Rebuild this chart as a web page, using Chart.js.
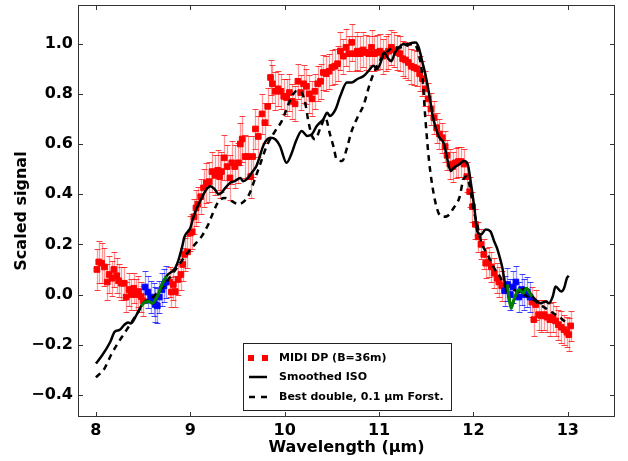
<!DOCTYPE html>
<html>
<head>
<meta charset="utf-8">
<script src="https://cdn.jsdelivr.net/npm/chart.js@4/dist/chart.umd.min.js"></script>
<style>
  html, body { margin: 0; background: #fff; }
  #wrap { width: 628px; height: 461px; }
</style>
</head>
<body>
<div id="wrap"><canvas id="c" width="628" height="461"></canvas></div>
<script>
// MIDI DP spectrum vs smoothed ISO and best-fit double model.
const xTicks = [8, 9, 10, 11, 12, 13];
const yTicks = [-0.4, -0.2, 0.0, 0.2, 0.4, 0.6, 0.8, 1.0];

// MIDI DP (B=36m), red points with error bars
const midiX = [
  8.01, 8.03, 8.06, 8.09, 8.12, 8.14, 8.17, 8.19, 8.22, 8.24,
  8.27, 8.30, 8.32, 8.35, 8.37, 8.40, 8.42, 8.45, 8.48, 8.50,
  8.78, 8.80, 8.82, 8.84, 8.87, 8.90, 8.92, 8.94, 8.97, 9.00,
  9.02, 9.04, 9.06, 9.08, 9.11, 9.14, 9.17, 9.20, 9.23, 9.26,
  9.29, 9.31, 9.33, 9.36, 9.39, 9.42, 9.44, 9.47, 9.51, 9.53,
  9.55, 9.58, 9.61, 9.64, 9.66, 9.69, 9.72, 9.76, 9.79, 9.82,
  9.85, 9.87, 9.90, 9.93, 9.96, 9.99, 10.02, 10.05, 10.08, 10.11,
  10.14, 10.17, 10.20, 10.23, 10.26, 10.29, 10.32, 10.35, 10.38, 10.41,
  10.44, 10.47, 10.50, 10.53, 10.56, 10.59, 10.62, 10.65, 10.68, 10.71,
  10.74, 10.77, 10.80, 10.83, 10.86, 10.89, 10.92, 10.95, 10.98, 11.01,
  11.04, 11.07, 11.10, 11.13, 11.16, 11.19, 11.22, 11.25, 11.28, 11.31,
  11.34, 11.37, 11.40, 11.43, 11.46, 11.49, 11.52, 11.55, 11.58, 11.61,
  11.64, 11.67, 11.70, 11.72, 11.75, 11.78, 11.81, 11.84, 11.87, 11.90,
  11.93, 11.96, 11.99, 12.02, 12.05, 12.08, 12.11, 12.13, 12.16, 12.19,
  12.22, 12.25, 12.27, 12.30,
  12.62, 12.64, 12.66, 12.69, 12.72, 12.75, 12.78, 12.81, 12.84, 12.87,
  12.90, 12.93, 12.96, 12.99, 13.01, 13.03
];
const midiY = [
  0.10, 0.13, 0.125, 0.11, 0.05, 0.08, 0.065, 0.10, 0.075, 0.055,
  0.045, 0.045, -0.01, 0.02, 0.0, 0.025, 0.0, 0.012, -0.008, -0.025,
  0.05, 0.01, 0.04, 0.012, 0.06, 0.08, 0.12, 0.16, 0.17, 0.245,
  0.25, 0.31, 0.345, 0.36, 0.39, 0.425, 0.445, 0.45, 0.49, 0.475,
  0.495, 0.47, 0.49, 0.545, 0.51, 0.465, 0.525, 0.51, 0.525, 0.60,
  0.62, 0.55, 0.55, 0.47, 0.55, 0.66, 0.63, 0.72, 0.685, 0.75,
  0.865, 0.84, 0.81, 0.82, 0.81, 0.79, 0.785, 0.805, 0.77, 0.76,
  0.85, 0.805, 0.84, 0.83, 0.80, 0.78, 0.81, 0.84, 0.85, 0.885,
  0.88, 0.89, 0.905, 0.91, 0.92, 0.97, 0.95, 0.985, 0.96, 1.005,
  0.96, 0.97, 0.96, 0.975, 0.965, 0.96, 0.985, 0.96, 0.965, 0.97,
  0.95, 0.96, 0.97, 0.985, 0.975, 0.965, 0.96, 0.94, 0.935, 0.925,
  0.91, 0.905, 0.90, 0.88, 0.86, 0.82, 0.78, 0.74, 0.705, 0.665,
  0.64, 0.625, 0.59, 0.555, 0.52, 0.51, 0.525, 0.53, 0.53, 0.52,
  0.47, 0.41, 0.35, 0.28, 0.23, 0.20, 0.16, 0.125, 0.13, 0.11,
  0.085, 0.065, 0.05, 0.035,
  -0.03, -0.10, -0.04, -0.08, -0.085, -0.08, -0.09, -0.10, -0.09, -0.105,
  -0.12, -0.13, -0.14, -0.15, -0.16, -0.125
];
const midiErr = [
  0.08, 0.085, 0.08, 0.075, 0.07, 0.075, 0.07, 0.07, 0.07, 0.065,
  0.065, 0.065, 0.06, 0.065, 0.06, 0.06, 0.06, 0.06, 0.06, 0.06,
  0.06, 0.06, 0.06, 0.06, 0.06, 0.06, 0.065, 0.065, 0.065, 0.07,
  0.07, 0.07, 0.07, 0.07, 0.07, 0.075, 0.08, 0.08, 0.08, 0.08,
  0.08, 0.085, 0.08, 0.09, 0.085, 0.09, 0.085, 0.085, 0.08, 0.085,
  0.09, 0.085, 0.08, 0.085, 0.08, 0.08, 0.08, 0.08, 0.08, 0.075,
  0.07, 0.075, 0.075, 0.07, 0.07, 0.07, 0.075, 0.075, 0.07, 0.07,
  0.07, 0.07, 0.075, 0.07, 0.075, 0.07, 0.07, 0.07, 0.07, 0.07,
  0.07, 0.07, 0.07, 0.07, 0.07, 0.075, 0.07, 0.075, 0.07, 0.075,
  0.07, 0.075, 0.07, 0.07, 0.07, 0.07, 0.07, 0.07, 0.07, 0.07,
  0.07, 0.07, 0.07, 0.07, 0.07, 0.07, 0.07, 0.07, 0.07, 0.07,
  0.07, 0.07, 0.07, 0.07, 0.07, 0.07, 0.065, 0.065, 0.065, 0.06,
  0.06, 0.06, 0.06, 0.06, 0.06, 0.06, 0.06, 0.06, 0.06, 0.06,
  0.06, 0.06, 0.06, 0.06, 0.06, 0.06, 0.06, 0.06, 0.06, 0.06,
  0.06, 0.06, 0.06, 0.06,
  0.06, 0.065, 0.06, 0.06, 0.065, 0.06, 0.06, 0.065, 0.06, 0.06,
  0.06, 0.065, 0.06, 0.06, 0.065, 0.06
];

// blue points (other baseline) in the two overlap windows
const blueX = [8.52, 8.55, 8.58, 8.61, 8.63, 8.65, 8.67, 8.70, 8.72, 8.74,
               12.33, 12.36, 12.39, 12.42, 12.45, 12.48, 12.51, 12.54, 12.57, 12.60];
const blueY = [0.03, 0.01, -0.01, -0.02, -0.04, -0.045, -0.01, 0.02, 0.035, 0.05,
               0.015, 0.04, 0.0, 0.03, 0.05, -0.01, 0.02, 0.0, 0.01, -0.01];
const blueErr = [0.065, 0.065, 0.065, 0.065, 0.07, 0.07, 0.065, 0.065, 0.065, 0.065,
                 0.06, 0.065, 0.06, 0.065, 0.065, 0.06, 0.06, 0.06, 0.06, 0.06];

// green short segments over the blue windows
const greenAX = [8.48, 8.52, 8.56, 8.60, 8.63, 8.66, 8.69, 8.72, 8.75];
const greenAY = [-0.045, -0.03, -0.028, -0.035, -0.02, 0.0, 0.03, 0.055, 0.075];
const greenBX = [12.36, 12.38, 12.40, 12.42, 12.45, 12.48, 12.50, 12.53, 12.56, 12.59, 12.62];
const greenBY = [0.04, -0.02, -0.055, -0.03, 0.0, 0.02, 0.015, 0.005, 0.025, 0.01, -0.008];

// Smoothed ISO
const isoX = [
  8.00, 8.07, 8.15, 8.20, 8.25, 8.30, 8.34, 8.37, 8.43, 8.48,
  8.52, 8.56, 8.60, 8.63, 8.66, 8.69, 8.72, 8.76, 8.80, 8.84,
  8.87, 8.91, 8.94, 9.00, 9.03, 9.07, 9.12, 9.17, 9.21, 9.26,
  9.30, 9.33, 9.37, 9.42, 9.47, 9.53, 9.56, 9.60, 9.65, 9.70,
  9.72, 9.78, 9.85, 9.90, 9.95, 10.02, 10.07, 10.12, 10.18, 10.24,
  10.29, 10.34, 10.41, 10.45, 10.48, 10.54, 10.59, 10.66, 10.71, 10.77,
  10.84, 10.89, 10.94, 10.98, 11.03, 11.05, 11.10, 11.13, 11.17, 11.23,
  11.26, 11.30, 11.33, 11.39, 11.42, 11.46, 11.49, 11.53, 11.57, 11.60,
  11.63, 11.69, 11.72, 11.76, 11.79, 11.85, 11.90, 11.94, 11.97, 12.01,
  12.04, 12.08, 12.13, 12.18, 12.22, 12.25, 12.29, 12.31, 12.34, 12.37,
  12.40, 12.45, 12.50, 12.56, 12.62, 12.66, 12.71, 12.77, 12.80, 12.84,
  12.87, 12.93, 12.96, 12.99, 13.01
];
const isoY = [
  -0.275, -0.24, -0.19, -0.148, -0.141, -0.121, -0.111, -0.115, -0.081, -0.045,
  -0.03, -0.028, -0.035, -0.02, 0.0, 0.03, 0.055, 0.079, 0.09, 0.105,
  0.132, 0.185, 0.232, 0.265, 0.305, 0.345, 0.385, 0.419, 0.432, 0.419,
  0.40, 0.405, 0.425, 0.445, 0.452, 0.465, 0.452, 0.46, 0.485, 0.512,
  0.532, 0.599, 0.625, 0.619, 0.592, 0.525, 0.559, 0.612, 0.652, 0.632,
  0.639, 0.672, 0.699, 0.725, 0.712, 0.739, 0.792, 0.845, 0.845, 0.859,
  0.872, 0.892, 0.912, 0.899, 0.939, 0.965, 0.939, 0.93, 0.965, 0.992,
  0.999, 0.992, 1.001, 1.005, 0.985, 0.925, 0.879, 0.80, 0.71, 0.665,
  0.632, 0.599, 0.545, 0.492, 0.505, 0.519, 0.532, 0.519, 0.452, 0.345,
  0.252, 0.239, 0.259, 0.252, 0.212, 0.185, 0.132, 0.10, 0.03, 0.0,
  -0.05, 0.0, 0.015, 0.025, -0.005, -0.021, -0.035, -0.028, -0.035, -0.008,
  0.032, 0.012, 0.025, 0.065, 0.075
];

// Best double, 0.1 um Forsterite
const fitX = [
  8.00, 8.09, 8.16, 8.23, 8.30, 8.37, 8.45, 8.52, 8.59, 8.66,
  8.73, 8.80, 8.87, 8.94, 9.03, 9.12, 9.19, 9.24, 9.30, 9.37,
  9.44, 9.51, 9.58, 9.63, 9.67, 9.74, 9.81, 9.90, 9.97, 10.02,
  10.07, 10.13, 10.18, 10.22, 10.25, 10.29, 10.32, 10.38, 10.43, 10.48,
  10.52, 10.55, 10.61, 10.66, 10.71, 10.77, 10.84, 10.89, 10.94, 11.01,
  11.08, 11.16, 11.23, 11.30, 11.37, 11.42, 11.46, 11.49, 11.53, 11.58,
  11.63, 11.68, 11.72, 11.79, 11.85, 11.90, 11.93, 11.97, 12.00, 12.04,
  12.08, 12.15, 12.22, 12.29, 12.31, 12.40, 12.50, 12.61, 12.71, 12.82,
  12.93, 12.99
];
const fitY = [
  -0.33, -0.295, -0.241, -0.195, -0.155, -0.115, -0.068, -0.028, -0.015, 0.012,
  0.039, 0.079, 0.112, 0.152, 0.192, 0.232, 0.279, 0.325, 0.372, 0.385,
  0.372, 0.36, 0.375, 0.405, 0.445, 0.519, 0.592, 0.652, 0.692, 0.739,
  0.785, 0.812, 0.805, 0.759, 0.692, 0.632, 0.619, 0.665, 0.705, 0.639,
  0.585, 0.539, 0.532, 0.585, 0.652, 0.705, 0.759, 0.825, 0.879, 0.932,
  0.965, 0.985, 0.985, 0.999, 0.999, 0.959, 0.865, 0.705, 0.532, 0.399,
  0.325, 0.31, 0.312, 0.345, 0.385, 0.465, 0.47, 0.412, 0.34, 0.279,
  0.212, 0.159, 0.105, 0.065, 0.045, 0.025, 0.005, -0.015, -0.041, -0.068,
  -0.095, -0.115
];

const pts = (xs, ys) => xs.map((x, i) => ({ x, y: ys[i] }));
const FONT = '"DejaVu Sans", "Liberation Sans", sans-serif';
const fmt = (v) => v.toFixed(1).replace('-', '\u2212');

// vertical error bars with caps, through the chart scales
const errorBars = {
  id: 'errorBars',
  beforeDatasetsDraw(chart) {
    const { ctx, scales: { x, y } } = chart;
    chart.data.datasets.forEach((ds) => {
      if (!ds.errors) return;
      ctx.save();
      ds.data.forEach((p, j) => {
        const e = ds.errors[j];
        const px = Math.round(x.getPixelForValue(p.x)) + 0.5;
        const top = Math.round(y.getPixelForValue(p.y + e)) + 0.5;
        const bot = Math.round(y.getPixelForValue(p.y - e)) + 0.5;
        ctx.strokeStyle = ds.errorColor;
        ctx.lineWidth = 1.3;
        ctx.beginPath();
        ctx.moveTo(px, top); ctx.lineTo(px, bot);
        ctx.stroke();
        ctx.strokeStyle = ds.capColor;
        ctx.lineWidth = 1;
        ctx.beginPath();
        ctx.moveTo(px - 3, top); ctx.lineTo(px + 3, top);
        ctx.moveTo(px - 3, bot); ctx.lineTo(px + 3, bot);
        ctx.stroke();
      });
      ctx.restore();
    });
  }
};

// matplotlib-style box with inward ticks on all four sides
const frame = {
  id: 'frame',
  afterDatasetsDraw(chart) {
    const { ctx, chartArea: a, scales: { x, y } } = chart;
    ctx.save();
    ctx.strokeStyle = '#333';
    ctx.lineWidth = 1;
    ctx.strokeRect(a.left + 0.5, a.top + 0.5, a.right - a.left - 1, a.bottom - a.top - 1);
    ctx.beginPath();
    x.ticks.forEach((t) => {
      const px = Math.round(x.getPixelForValue(t.value)) + 0.5;
      ctx.moveTo(px, a.bottom); ctx.lineTo(px, a.bottom - 5);
      ctx.moveTo(px, a.top); ctx.lineTo(px, a.top + 5);
    });
    y.ticks.forEach((t) => {
      const py = Math.round(y.getPixelForValue(t.value)) + 0.5;
      ctx.moveTo(a.left, py); ctx.lineTo(a.left + 5, py);
      ctx.moveTo(a.right, py); ctx.lineTo(a.right - 5, py);
    });
    ctx.stroke();
    ctx.restore();
  }
};

// legend box in the lower middle of the axes
const legendBox = {
  id: 'legendBox',
  afterDraw(chart) {
    const ctx = chart.ctx;
    ctx.save();
    ctx.fillStyle = '#fff';
    ctx.fillRect(243, 343, 208, 67);
    ctx.strokeStyle = '#222';
    ctx.lineWidth = 1;
    ctx.strokeRect(243.5, 343.5, 208, 67);

    ctx.fillStyle = '#ff0000';
    ctx.fillRect(248, 355, 6, 6);
    ctx.fillRect(262, 355, 6, 6);

    ctx.strokeStyle = '#000';
    ctx.lineWidth = 2.5;
    ctx.beginPath(); ctx.moveTo(249, 377); ctx.lineTo(267, 377); ctx.stroke();
    ctx.beginPath(); ctx.moveTo(249, 397); ctx.lineTo(255, 397);
    ctx.moveTo(261, 397); ctx.lineTo(267, 397); ctx.stroke();

    ctx.fillStyle = '#000';
    ctx.font = 'bold 11px ' + FONT;
    ctx.textBaseline = 'middle';
    ctx.fillText('MIDI DP (B=36m)', 279, 358);
    ctx.fillText('Smoothed ISO', 279, 377);
    ctx.fillText('Best double, 0.1 \u03bcm Forst.', 279, 397);
    ctx.restore();
  }
};

new Chart(document.getElementById('c'), {
  type: 'scatter',
  data: {
    datasets: [
      { data: pts(midiX, midiY), errors: midiErr, errorColor: 'rgba(255,0,0,0.4)', capColor: 'rgba(255,0,0,0.75)',
        pointStyle: 'rect', pointRadius: 4, backgroundColor: '#ff0000', borderColor: '#ff0000', borderWidth: 1, order: 5 },
      { data: pts(blueX, blueY), errors: blueErr, errorColor: 'rgba(0,0,255,0.4)', capColor: 'rgba(0,0,255,0.75)',
        pointStyle: 'rect', pointRadius: 4, backgroundColor: '#0000ff', borderColor: '#0000ff', borderWidth: 1, order: 4 },
      { data: pts(isoX, isoY), showLine: true, pointRadius: 0, borderColor: '#000', borderWidth: 2.5,
        cubicInterpolationMode: 'monotone', order: 3 },
      { data: pts(fitX, fitY), showLine: true, pointRadius: 0, borderColor: '#000', borderWidth: 2.5,
        borderDash: [6, 5], cubicInterpolationMode: 'monotone', order: 2 },
      { data: pts(greenAX, greenAY), showLine: true, pointRadius: 0, borderColor: '#008000', borderWidth: 3,
        cubicInterpolationMode: 'monotone', order: 1 },
      { data: pts(greenBX, greenBY), showLine: true, pointRadius: 0, borderColor: '#008000', borderWidth: 3,
        cubicInterpolationMode: 'monotone', order: 1 }
    ]
  },
  options: {
    responsive: false,
    animation: false,
    events: [],
    layout: { padding: { top: 4, right: 13, left: 0, bottom: 0 } },
    plugins: { legend: { display: false }, tooltip: { enabled: false } },
    scales: {
      x: {
        min: 7.81, max: 13.5,
        afterBuildTicks: (s) => { s.ticks = xTicks.map((v) => ({ value: v })); },
        afterFit: (s) => { s.height = 44; s.paddingLeft = 0; s.paddingRight = 0; },
        grid: { display: false, drawTicks: false },
        border: { display: false },
        ticks: { color: '#000', padding: 4, maxRotation: 0, font: { family: FONT, size: 16, weight: 'bold' },
                 callback: (v) => String(v) },
        title: { display: true, text: 'Wavelength (\u03bcm)', color: '#000',
                 font: { family: FONT, size: 16, weight: 'bold' }, padding: { top: 0, bottom: 4 } }
      },
      y: {
        min: -0.488, max: 1.154,
        afterBuildTicks: (s) => { s.ticks = yTicks.map((v) => ({ value: v })); },
        afterFit: (s) => { s.width = 78; s.paddingTop = 0; s.paddingBottom = 0; },
        grid: { display: false, drawTicks: false },
        border: { display: false },
        ticks: { color: '#000', padding: 5, font: { family: FONT, size: 16, weight: 'bold' }, callback: fmt },
        title: { display: true, text: 'Scaled signal', color: '#000',
                 font: { family: FONT, size: 16, weight: 'bold' }, padding: { top: 12, bottom: 0 } }
      }
    }
  },
  plugins: [errorBars, frame, legendBox]
});
</script>
</body>
</html>
